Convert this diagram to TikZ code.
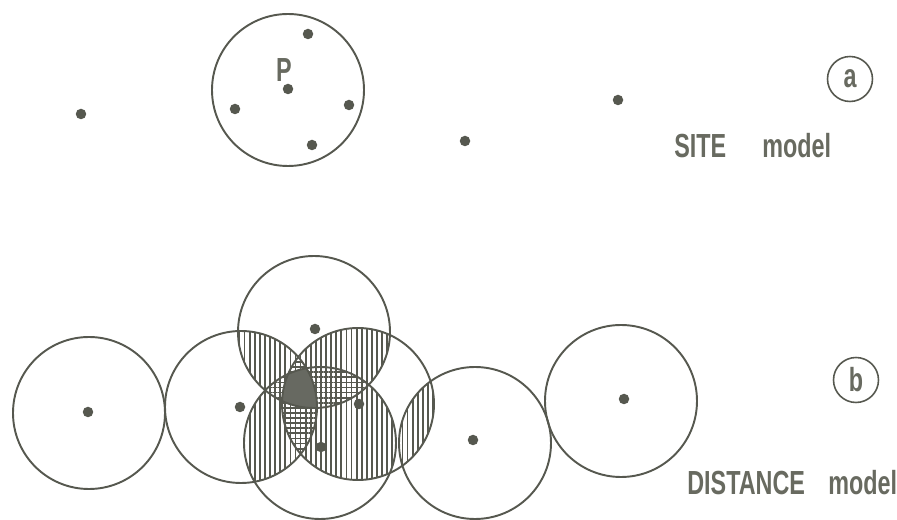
\documentclass[tikz,border=0pt]{standalone}
\usepackage{fontspec}
\usetikzlibrary{patterns.meta}
\newfontfamily\lblfont{Liberation Sans}[FakeStretch=0.7]
\definecolor{ink}{RGB}{86,88,79}
\definecolor{txtink}{RGB}{104,106,96}
\tikzset{
  ring/.style={draw=ink,line width=1.1pt},
  site/.style={circle,fill=ink,inner sep=0pt,minimum size=0.21cm},
  vhatch/.style={pattern={Lines[angle=90,distance=2.9pt,line width=1pt]},pattern color=ink},
  hhatch/.style={pattern={Lines[angle=0,distance=2.9pt,line width=1pt]},pattern color=ink},
  tag/.style={circle,draw=ink,line width=0.9pt,minimum size=0.9cm,inner sep=0pt,
    text=txtink,font=\lblfont\bfseries\fontsize{19}{22}\selectfont},
  caption/.style={anchor=base west,inner sep=0pt,text=txtink,
    font=\lblfont\bfseries\fontsize{19}{22}\selectfont}
}
\begin{document}
\begin{tikzpicture}[x=0.02cm,y=-0.02cm]
	\useasboundingbox (0,0) rectangle (897,520);
	% (a) site model
	\draw[ring] (288,90) circle[radius=76];
	\node[site] (p) at (288,89) {};
	\node[caption,anchor=center] (plbl) at (284,70) {P};
	\foreach \px/\py [count=\i] in {308/34,235/109,349/105,312/145,81/114,465/141,618/100}
		\node[site] (s\i) at (\px,\py) {};
	\node[tag] (ta) at (850,79) {a};
	\node[caption] (sitecap) at (674,158) {SITE};
	\node[caption] (sitemod) at (762,158) {model};
	% (b) distance model
	\coordinate (c1) at (89,413);
	\coordinate (cL) at (241,407);
	\coordinate (cT) at (314,332);
	\coordinate (cR) at (358,404);
	\coordinate (cB) at (320,443);
	\coordinate (c5) at (475,443);
	\coordinate (c6) at (621,401);
	% pairs
	\foreach \a/\b in {cL/cT,cL/cR,cL/cB,cT/cR,cT/cB,cR/cB,cR/c5}{
		\begin{scope}
			\clip (\a) circle[radius=76];
			\fill[vhatch] (\b) circle[radius=76];
		\end{scope}
	}
	% triples
	\foreach \a/\b/\c in {cL/cT/cR,cL/cT/cB,cL/cR/cB,cT/cR/cB}{
		\begin{scope}
			\clip (\a) circle[radius=76];
			\clip (\b) circle[radius=76];
			\fill[hhatch] (\c) circle[radius=76];
		\end{scope}
	}
	% all four
	\begin{scope}
		\clip (cL) circle[radius=76];
		\clip (cT) circle[radius=76];
		\clip (cR) circle[radius=76];
		\fill[ink!90] (cB) circle[radius=76];
	\end{scope}
	\foreach \c in {c1,cL,cT,cR,cB,c5,c6}
		\draw[ring] (\c) circle[radius=76];
	\node[site] (d1) at (88,412) {};
	\node[site] (dL) at (240,407) {};
	\node[site] (dT) at (315,329) {};
	\node[site] (dR) at (359,404) {};
	\node[site] (dB) at (321,447) {};
	\node[site] (d5) at (473,440) {};
	\node[site] (d6) at (624,399) {};
	\node[tag] (tb) at (856,380) {b};
	\node[caption] (distcap) at (687,495) {DISTANCE};
	\node[caption] (distmod) at (828,495) {model};
\end{tikzpicture}
\end{document}
